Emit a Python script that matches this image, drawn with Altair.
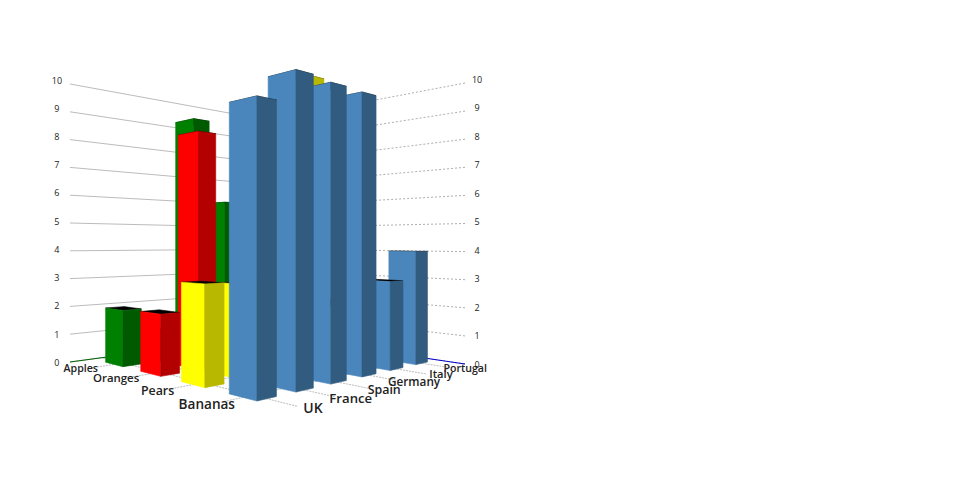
import altair as alt
import pandas as pd

rows = ["Apples", "Oranges", "Pears", "Bananas"]
cols = ["UK", "France", "Spain", "Germany", "Italy", "Portugal"]
apples = [1.95, 1, 9.0, 5.9, 2, 3]
oranges = [2.0, 8.07, 1, 3, 2, 2]
pears = [3.08, 3.0, 3, 10.1, 2, 2]
bananas = [8.3, 9.3, 9.2, 9.15, 3.0, 4.0]
ticks = list(range(0, 11))

lit = ["#008000", "#FF0000", "#FFFF00", "#4A86BC"]
dim = ["#005A00", "#B30000", "#B8B800", "#315C80"]

# view: perspective of the box, image pixel coordinates of the floor corners
LEFT = (70, 362, 1 / 278)
RIGHT = (465, 364, 1 / 281)
FRONT = (262, 415, 1 / 400)
V0, VSTEP, VW = 0.114, 0.226, 0.115
U0, USTEP, UW = 0.09, 0.1545, 0.075


def project(u, v, value=0):
    X = FRONT[0] * FRONT[2] + u * (RIGHT[0] * RIGHT[2] - FRONT[0] * FRONT[2]) + v * (LEFT[0] * LEFT[2] - FRONT[0] * FRONT[2])
    Y = FRONT[1] * FRONT[2] + u * (RIGHT[1] * RIGHT[2] - FRONT[1] * FRONT[2]) + v * (LEFT[1] * LEFT[2] - FRONT[1] * FRONT[2])
    W = FRONT[2] + u * (RIGHT[2] - FRONT[2]) + v * (LEFT[2] - FRONT[2])
    return X / W, Y / W - value / 10 / W, 1 / W


polys = []
pid = 0


def add_poly(points, color):
    """Convex polygon as an area: for each vertex x, upper and lower y."""
    global pid
    pid += 1
    xs = sorted(set(p[0] for p in points))
    n = len(points)
    for x in xs:
        ys = []
        for k in range(n):
            a, b = points[k], points[(k + 1) % n]
            lo, hi = min(a[0], b[0]), max(a[0], b[0])
            if lo <= x <= hi:
                if a[0] == b[0]:
                    ys += [a[1], b[1]]
                else:
                    ys.append(a[1] + (b[1] - a[1]) * (x - a[0]) / (b[0] - a[0]))
        polys.append({"id": pid, "x": x, "y": min(ys), "y2": max(ys), "c": color})


series = [apples, oranges, pears, bananas]
for j in range(4):
    vals = series[j]
    v0 = V0 + VSTEP * (3 - j)
    v1 = v0 + VW
    for i in range(5, -1, -1):
        u0 = U0 + USTEP * i
        u1 = u0 + UW
        h = vals[i]
        top = [project(u0, v1, h)[:2], project(u0, v0, h)[:2], project(u1, v0, h)[:2], project(u1, v1, h)[:2]]
        add_poly(top, "#000000")
        add_poly([project(u0, v1, h)[:2], project(u0, v0, h)[:2], project(u0, v0)[:2], project(u0, v1)[:2]], lit[j])
        add_poly([project(u0, v0, h)[:2], project(u1, v0, h)[:2], project(u1, v0)[:2], project(u0, v0)[:2]], dim[j])

polys_df = pd.DataFrame(polys)

left_grid, right_grid, floor_u, floor_v = [], [], [], []
for t in ticks:
    for s, u in enumerate((0, 1)):
        x, y, _ = project(u, 1, t)
        left_grid.append({"id": t, "o": s, "x": x, "y": y})
    for s, v in enumerate((0, 1)):
        x, y, _ = project(1, v, t)
        right_grid.append({"id": t, "o": s, "x": x, "y": y})
for j in range(4):
    v = V0 + VSTEP * (3 - j) + VW / 2
    for s, u in enumerate((0, 1)):
        x, y, _ = project(u, v)
        floor_u.append({"id": j, "o": s, "x": x, "y": y})
for i in range(6):
    u = U0 + USTEP * i + UW / 2
    for s, v in enumerate((0, 1)):
        x, y, _ = project(u, v)
        floor_v.append({"id": i, "o": s, "x": x, "y": y})
green_edge = [dict(zip(("x", "y"), project(u, 1)[:2]), o=s) for s, u in enumerate((0, 1))]
blue_edge = [dict(zip(("x", "y"), project(1, v)[:2]), o=s) for s, v in enumerate((0, 1))]

tick_labels, cat_labels = [], []
for t in ticks:
    x, y, _ = project(-0.05, 1, t)
    tick_labels.append({"x": x, "y": y - 1, "t": str(t), "s": 9})
    x, y, _ = project(1, -0.05, t)
    tick_labels.append({"x": x - 1, "y": y - 1, "t": str(t), "s": 9})
for j, name in enumerate(rows):
    v = V0 + VSTEP * (3 - j) + VW / 2
    x, y, s = project(-0.035, v)
    cat_labels.append({"x": x - 1, "y": y, "t": name, "s": s * 0.036})
for i, name in enumerate(cols):
    u = U0 + USTEP * i + UW / 2
    x, y, s = project(u, -0.06)
    cat_labels.append({"x": x - 1, "y": y - 1.5, "t": name, "s": s * 0.036})

W, H = 520, 440
X = alt.X("x:Q", scale=alt.Scale(domain=[8, 8 + W]), axis=None)
Y = alt.Y("y:Q", scale=alt.Scale(domain=[8 + H, 8]), axis=None, stack=None)


def lines(data, color, width, dash=None):
    kw = {"strokeDash": dash} if dash else {}
    enc = {"x": X, "y": Y, "order": alt.Order("o:Q")}
    if "id" in data[0]:
        enc["detail"] = "id:N"
    return alt.Chart(pd.DataFrame(data)).mark_line(color=color, strokeWidth=width, **kw).encode(**enc)


def texts(data, weight):
    return alt.Chart(pd.DataFrame(data)).mark_text(font="Open Sans", fontWeight=weight, color="#222222", baseline="middle", align="center").encode(
        x=X, y=Y, text="t:N", size=alt.Size("s:Q", scale=None),
    )


areas = alt.Chart(polys_df).mark_area(opacity=1, interpolate="linear", strokeWidth=0.6).encode(
    x=X, y=Y, y2="y2:Q", detail="id:N",
    color=alt.Color("c:N", scale=None),
    stroke=alt.Stroke("c:N", scale=None),
)

chart = alt.layer(
    lines(left_grid, "#AAAAAA", 0.8),
    lines(right_grid, "#999999", 0.8, [2, 2]),
    lines(floor_u, "#AAAAAA", 0.8, [2, 1]),
    lines(floor_v, "#AAAAAA", 0.8, [2, 1]),
    lines(green_edge, "#006400", 1),
    lines(blue_edge, "#0000CC", 1),
    areas,
    texts(tick_labels, 400),
    texts(cat_labels, 600),
).properties(width=W, height=H, padding=0).configure_view(stroke=None)

chart.save("out.html", embed_options={"renderer": "svg", "actions": False})
